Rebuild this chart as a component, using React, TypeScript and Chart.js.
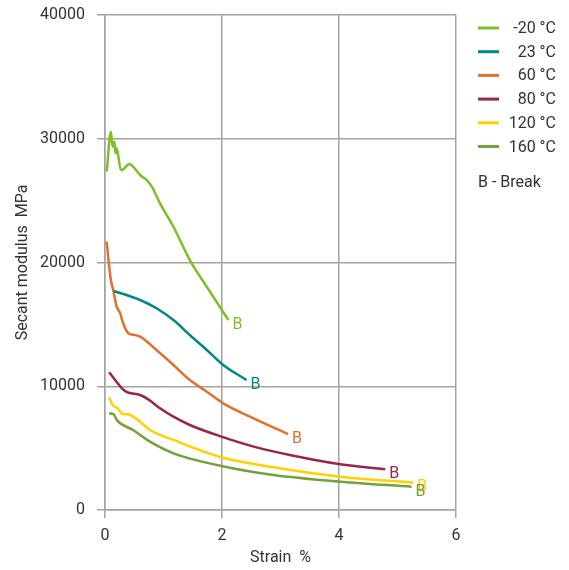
import React, { useEffect, useRef } from "react";
import { Chart, registerables } from "chart.js";

Chart.register(...registerables);

// Secant modulus (MPa) vs strain (%) at several temperatures
const strainM20 = [0.03, 0.1, 0.13, 0.16, 0.18, 0.2, 0.27, 0.31, 0.42, 0.48, 0.6, 0.71, 0.8, 0.94, 1.17, 1.45, 1.74, 2.11];
const modulusM20 = [27340, 30570, 29360, 29760, 28820, 29230, 27470, 27530, 27960, 27740, 27070, 26670, 26130, 24780, 22890, 20200, 18040, 15350];

const strain23 = [0.15, 0.6, 0.88, 1.17, 1.45, 1.74, 2.02, 2.42];
const modulus23 = [17700, 16970, 16300, 15350, 14140, 12930, 11720, 10500];

const strain60 = [0.03, 0.06, 0.1, 0.14, 0.2, 0.26, 0.31, 0.4, 0.51, 0.6, 0.88, 1.17, 1.45, 1.74, 2.02, 2.54, 3.13];
const modulus60 = [21680, 20200, 18590, 17780, 16430, 15890, 15090, 14280, 14140, 14010, 12930, 11720, 10500, 9560, 8620, 7410, 6140];

const strain80 = [0.07, 0.34, 0.6, 0.74, 0.94, 1.17, 1.45, 1.99, 2.59, 3.16, 4.02, 4.79];
const modulus80 = [11130, 9620, 9290, 8940, 8220, 7540, 6870, 5930, 5060, 4440, 3690, 3290];

const strain120 = [0.07, 0.14, 0.21, 0.3, 0.4, 0.48, 0.6, 0.77, 1.17, 1.99, 2.88, 4.02, 5.27];
const modulus120 = [9100, 8430, 8270, 7760, 7730, 7540, 7140, 6460, 5660, 4260, 3450, 2690, 2230];

const strain160 = [0.07, 0.14, 0.21, 0.48, 0.77, 1.17, 1.99, 2.88, 4.02, 5.24];
const modulus160 = [7810, 7760, 7220, 6460, 5520, 4580, 3560, 2830, 2290, 1880];

const seriesLabels = ["-20 °C", "23 °C", "60 °C", "80 °C", "120 °C", "160 °C"];
const seriesColors = ["#7fbf26", "#00878f", "#e2702f", "#9a2546", "#ffd100", "#75a03a"];
const strainSets = [strainM20, strain23, strain60, strain80, strain120, strain160];
const modulusSets = [modulusM20, modulus23, modulus60, modulus80, modulus120, modulus160];

const breakMark = "B";
const breakNote = "B - Break";
const xTicks = [0, 2, 4, 6];
const yTicks = [0, 10000, 20000, 30000, 40000];

const FONT = "Roboto, 'Noto Sans', sans-serif";
const TEXT = "#333333";
const GRID = "#a3a3a3";

// Writes "B" at the last point of every curve and draws the legend on the right
const annotations = {
  id: "annotations",
  afterDatasetsDraw(chart: any) {
    const ctx = chart.ctx;
    ctx.save();
    ctx.font = `16px ${FONT}`;
    ctx.textAlign = "left";
    ctx.textBaseline = "middle";
    chart.data.datasets.forEach((ds: any, i: number) => {
      const meta = chart.getDatasetMeta(i);
      const last = meta.data[meta.data.length - 1];
      ctx.fillStyle = ds.borderColor;
      ctx.fillText(breakMark, last.x + 4, last.y + 5);
    });

    // legend
    const lx0 = 478;
    const lx1 = 499;
    const textRight = 556;
    const top = 28;
    const step = 23.7;
    ctx.font = `16px ${FONT}`;
    ctx.textAlign = "right";
    seriesLabels.forEach((lab, i) => {
      const y = top + i * step;
      ctx.strokeStyle = seriesColors[i];
      ctx.lineWidth = 3;
      ctx.beginPath();
      ctx.moveTo(lx0, y);
      ctx.lineTo(lx1, y);
      ctx.stroke();
      ctx.fillStyle = TEXT;
      ctx.fillText(lab, textRight, y + 1);
    });
    ctx.textAlign = "left";
    ctx.fillStyle = TEXT;
    ctx.fillText(breakNote, lx0, 183);
    ctx.restore();
  },
};

export default function App() {
  const canvasRef = useRef<HTMLCanvasElement | null>(null);

  useEffect(() => {
    if (!canvasRef.current) return;
    const chart = new Chart(canvasRef.current, {
      type: "line",
      data: {
        datasets: seriesLabels.map((label, i) => ({
          label,
          data: strainSets[i].map((x, j) => ({ x, y: modulusSets[i][j] })),
          borderColor: seriesColors[i],
          backgroundColor: seriesColors[i],
          borderWidth: 2.5,
          pointRadius: 0,
          cubicInterpolationMode: "monotone" as const,
          fill: false,
        })),
      },
      options: {
        animation: false,
        responsive: true,
        maintainAspectRatio: false,
        layout: { padding: { left: 13, top: 15, right: 113, bottom: 2 } },
        plugins: {
          legend: { display: false },
          tooltip: { enabled: false },
        },
        scales: {
          x: {
            type: "linear",
            min: 0,
            max: 6,
            afterBuildTicks: (scale: any) => {
              scale.ticks = xTicks.map((v) => ({ value: v }));
            },
            afterFit: (scale: any) => {
              scale.height = 58;
              scale.paddingLeft = 0;
              scale.paddingRight = 0;
            },
            grid: { color: GRID, lineWidth: 1.5, tickLength: 8, drawTicks: true },
            border: { color: GRID, width: 1.5 },
            ticks: { color: TEXT, font: { family: FONT, size: 16 }, padding: 8, callback: (v: any) => String(v) },
            title: {
              display: true,
              text: "Strain  %",
              color: TEXT,
              font: { family: FONT, size: 16 },
              padding: { top: 0, bottom: 0 },
            },
          },
          y: {
            type: "linear",
            min: 0,
            max: 40000,
            afterBuildTicks: (scale: any) => {
              scale.ticks = yTicks.map((v) => ({ value: v }));
            },
            afterFit: (scale: any) => {
              scale.width = 92;
              scale.paddingTop = 0;
              scale.paddingBottom = 0;
            },
            grid: { color: GRID, lineWidth: 1.5, tickLength: 8, drawTicks: true },
            border: { color: GRID, width: 1.5 },
            ticks: { color: TEXT, font: { family: FONT, size: 16 }, padding: 12, callback: (v: any) => String(v) },
            title: {
              display: true,
              text: "Secant modulus  MPa",
              color: TEXT,
              font: { family: FONT, size: 16 },
              padding: { top: 0, bottom: 0 },
            },
          },
        },
      },
      plugins: [annotations],
    });
    return () => chart.destroy();
  }, []);

  return (
    <div style={{ position: "fixed", left: 0, top: 0, width: 569, height: 570, background: "#fff" }}>
      <canvas ref={canvasRef} />
    </div>
  );
}
